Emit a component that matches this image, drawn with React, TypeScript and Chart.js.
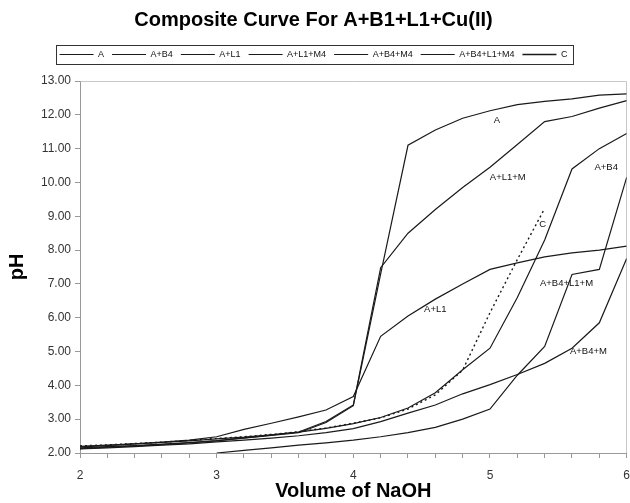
import React, { useEffect, useRef } from 'react';
import { Chart, registerables } from 'chart.js';

Chart.register(...registerables);

// Volume of NaOH (x values)
const volume = [2.0, 2.2, 2.4, 2.6, 2.8, 3.0, 3.2, 3.4, 3.6, 3.8, 4.0, 4.2, 4.4, 4.6, 4.8, 5.0, 5.2, 5.4, 5.6, 5.8, 6.0];

// pH series
const seriesA = [2.13, 2.17, 2.21, 2.25, 2.3, 2.36, 2.44, 2.52, 2.6, 2.9, 3.4, 7.3, 11.1, 11.55, 11.9, 12.12, 12.3, 12.4, 12.47, 12.58, 12.62];
const seriesAB4 = [2.2, 2.23, 2.27, 2.31, 2.36, 2.42, 2.47, 2.54, 2.62, 2.73, 2.87, 3.05, 3.33, 3.78, 4.46, 5.1, 6.6, 8.3, 10.4, 11.0, 11.45];
const seriesAL1 = [2.18, 2.22, 2.27, 2.32, 2.38, 2.48, 2.7, 2.88, 3.07, 3.27, 3.67, 5.45, 6.05, 6.55, 7.0, 7.43, 7.62, 7.8, 7.92, 8.0, 8.12];
const seriesAL1M = [2.15, 2.19, 2.22, 2.26, 2.31, 2.37, 2.45, 2.53, 2.62, 2.93, 3.42, 7.48, 8.5, 9.2, 9.85, 10.45, 11.12, 11.8, 11.95, 12.2, 12.42];
const seriesAB4M = [2.12, 2.15, 2.19, 2.23, 2.27, 2.33, 2.38, 2.44, 2.51, 2.6, 2.72, 2.93, 3.18, 3.42, 3.75, 4.02, 4.32, 4.65, 5.1, 5.85, 7.75];
const seriesAB4L1M = [null, null, null, null, null, 2.0, 2.08, 2.15, 2.23, 2.3, 2.38, 2.48, 2.6, 2.76, 3.0, 3.3, 4.3, 5.15, 7.28, 7.43, 10.15];
const seriesC = [2.21, 2.24, 2.28, 2.32, 2.37, 2.43, 2.48, 2.55, 2.63, 2.74, 2.88, 3.04, 3.3, 3.72, 4.45, 6.15, 7.72, 9.23, null, null, null];

// Legend labels
const legendLabels = ['A', 'A+B4', 'A+L1', 'A+L1+M4', 'A+B4+M4', 'A+B4+L1+M4', 'C'];

// In-plot curve labels (text, x value, pH value)
const noteText = ['A', 'A+L1+M', 'A+B4', 'C', 'A+L1', 'A+B4+L1+M', 'A+B4+M'];
const noteX = [5.05, 5.13, 5.85, 5.385, 4.6, 5.56, 5.72];
const noteY = [11.84, 10.15, 10.45, 8.76, 6.26, 7.02, 5.0];

const chartTitle = 'Composite Curve For A+B1+L1+Cu(II)';
const xTitle = 'Volume of NaOH';
const yTitle = 'pH';

const toPoints = (vals: (number | null)[]) => volume.map((x, i) => ({ x, y: vals[i] }));

const plotBorderPlugin = {
  id: 'plotBorder',
  beforeDatasetsDraw(chart: any) {
    const { ctx, chartArea } = chart;
    ctx.save();
    ctx.strokeStyle = '#c8c8c8';
    ctx.lineWidth = 1;
    ctx.beginPath();
    ctx.moveTo(Math.round(chartArea.left) + 0.5, Math.round(chartArea.top) + 0.5);
    ctx.lineTo(Math.round(chartArea.right) - 0.5, Math.round(chartArea.top) + 0.5);
    ctx.lineTo(Math.round(chartArea.right) - 0.5, Math.round(chartArea.bottom));
    ctx.stroke();
    ctx.restore();
  },
};

const notesPlugin = {
  id: 'curveNotes',
  afterDatasetsDraw(chart: any) {
    const { ctx } = chart;
    const xs = chart.scales.x;
    const ys = chart.scales.y;
    ctx.save();
    ctx.font = '9.5px "Liberation Sans", Arial, sans-serif';
    ctx.fillStyle = '#111';
    ctx.textAlign = 'center';
    ctx.textBaseline = 'middle';
    noteText.forEach((t, i) => {
      ctx.fillText(t, xs.getPixelForValue(noteX[i]), ys.getPixelForValue(noteY[i]));
    });
    ctx.restore();
  },
};

const legendBoxPlugin = {
  id: 'legendBox',
  afterDraw(chart: any) {
    const lg = chart.legend;
    if (!lg || !lg.legendHitBoxes || !lg.legendHitBoxes.length) return;
    let l = Infinity, r = -Infinity, t = Infinity, b = -Infinity;
    lg.legendHitBoxes.forEach((h: any) => {
      l = Math.min(l, h.left);
      r = Math.max(r, h.left + h.width);
      t = Math.min(t, h.top);
      b = Math.max(b, h.top + h.height);
    });
    const { ctx } = chart;
    ctx.save();
    ctx.strokeStyle = '#333';
    ctx.lineWidth = 1;
    ctx.strokeRect(Math.round(l - 4) + 0.5, Math.round(t - 5) + 0.5, Math.round(r - l + 9), Math.round(b - t + 10));
    ctx.restore();
  },
};

export default function App() {
  const canvasRef = useRef<HTMLCanvasElement | null>(null);

  useEffect(() => {
    if (!canvasRef.current) return;
    Chart.defaults.font.family = '"Liberation Sans", Arial, sans-serif';
    const lineColor = '#1a1a1a';
    const mk = (label: string, vals: (number | null)[], dashed = false) => ({
      label,
      data: toPoints(vals),
      borderColor: lineColor,
      backgroundColor: lineColor,
      borderWidth: dashed ? 1.4 : 1.2,
      borderDash: dashed ? [2, 3] : [],
      pointRadius: 0,
      pointStyle: 'line',
      tension: 0,
      spanGaps: false,
      fill: false,
    });

    const chart = new Chart(canvasRef.current, {
      type: 'line',
      data: {
        datasets: [
          mk(legendLabels[0], seriesA),
          mk(legendLabels[1], seriesAB4),
          mk(legendLabels[2], seriesAL1),
          mk(legendLabels[3], seriesAL1M),
          mk(legendLabels[4], seriesAB4M),
          mk(legendLabels[5], seriesAB4L1M),
          mk(legendLabels[6], seriesC, true),
        ] as any,
      },
      options: {
        animation: false,
        responsive: false,
        devicePixelRatio: 1,
        layout: { padding: { left: 0, right: 3, top: 0, bottom: 0 } },
        plugins: {
          title: {
            display: true,
            text: chartTitle,
            color: '#000',
            font: { size: 20, weight: 'bold', lineHeight: 1.2 },
            padding: { top: 8, bottom: 10 },
          },
          subtitle: {
            display: true,
            text: '',
            weight: 500,
            font: { size: 1, lineHeight: 1 },
            padding: { top: 0, bottom: 11 },
          } as any,
          legend: {
            display: true,
            position: 'top',
            labels: {
              usePointStyle: true,
              pointStyle: 'line',
              pointStyleWidth: 34,
              color: '#111',
              font: { size: 9 },
              padding: 8,
            },
          },
          tooltip: { enabled: false },
        },
        scales: {
          x: {
            type: 'linear',
            min: 2,
            max: 6,
            ticks: {
              stepSize: 0.2,
              autoSkip: false,
              maxRotation: 0,
              color: '#333',
              font: { size: 12, lineHeight: 3 },
              padding: 0,
              callback: (v: any) => {
                const n = Number(v);
                return Math.abs(n - Math.round(n)) < 1e-6 ? String(Math.round(n)) : '';
              },
            },
            grid: { drawOnChartArea: false, drawTicks: true, tickLength: 5, color: '#999' },
            border: { display: true, color: '#999' },
            title: {
              display: true,
              text: xTitle,
              color: '#000',
              font: { size: 20, weight: 'bold', lineHeight: 1 },
              padding: { top: 0, bottom: 2 },
            },
            afterFit: (s: any) => { s.height = 50; },
          },
          y: {
            type: 'linear',
            min: 2,
            max: 13,
            ticks: {
              stepSize: 1,
              color: '#333',
              font: { size: 12 },
              padding: 4,
              callback: (v: any) => Number(v).toFixed(2),
            },
            grid: { drawOnChartArea: false, drawTicks: true, tickLength: 5, color: '#999' },
            border: { display: true, color: '#999' },
            title: {
              display: true,
              text: yTitle,
              color: '#000',
              font: { size: 20, weight: 'bold', lineHeight: 1 },
              padding: { top: 7, bottom: 0 },
            },
            afterFit: (s: any) => { s.width = 80; },
          },
        },
      } as any,
      plugins: [plotBorderPlugin, notesPlugin, legendBoxPlugin],
    });
    return () => chart.destroy();
  }, []);

  return (
    <div style={{ position: 'fixed', left: 0, top: 0, width: 630, height: 503, background: '#fff' }}>
      <canvas ref={canvasRef} width={630} height={503} style={{ width: 630, height: 503 }} />
    </div>
  );
}
